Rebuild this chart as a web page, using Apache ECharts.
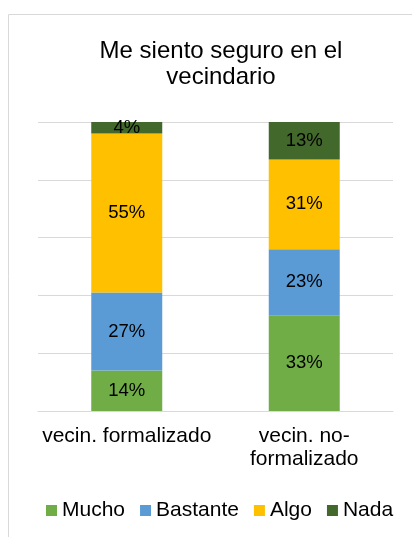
<!DOCTYPE html>
<html>
<head>
<meta charset="utf-8">
<script src="https://cdn.jsdelivr.net/npm/echarts@6/dist/echarts.min.js"></script>
<style>
  html, body { margin: 0; padding: 0; background: #fff; }
  #main { width: 412px; height: 537px; }
</style>
</head>
<body>
<div id="main"></div>
<script>
// categorias y porcentajes
var categories = ['vecin. formalizado', 'vecin. no-\nformalizado'];
var mucho = [14, 33];
var bastante = [27, 23];
var algo = [55, 31];
var nada = [4, 13];
var seriesNames = ['Mucho', 'Bastante', 'Algo', 'Nada'];
var colors = ['#70AD47', '#5B9BD5', '#FFC000', '#43682B'];

var font = '"Liberation Sans", Arial, sans-serif';
var chart = echarts.init(document.getElementById('main'));

function makeSeries(name, data) {
  return {
    name: name,
    type: 'bar',
    stack: 'total',
    barWidth: '40%',
    data: data,
    label: {
      show: true,
      position: 'inside',
      formatter: '{c}%',
      color: '#000',
      fontFamily: font,
      fontSize: 18.5
    }
  };
}

var option = {
  animation: false,
  color: colors,
  graphic: [{
    type: 'rect',
    silent: true,
    shape: { x: 8.5, y: 14.5, width: 500, height: 600 },
    style: { fill: 'none', stroke: '#D9D9D9', lineWidth: 1 }
  }],
  title: {
    text: 'Me siento seguro en el\nvecindario',
    left: 216,
    textAlign: 'center',
    top: 33,
    textStyle: {
      fontFamily: font,
      fontSize: 24,
      fontWeight: 'normal',
      color: '#000',
      lineHeight: 26
    }
  },
  legend: {
    data: seriesNames,
    left: 46,
    top: 500,
    padding: 0,
    itemWidth: 11,
    itemHeight: 11,
    itemGap: 15,
    icon: 'rect',
    textStyle: { fontFamily: font, fontSize: 21, color: '#000' }
  },
  grid: { left: 38, right: 19, top: 122, bottom: 126 },
  xAxis: {
    type: 'category',
    data: categories,
    axisTick: { show: false },
    axisLine: { lineStyle: { color: '#D9D9D9', width: 1 } },
    axisLabel: {
      interval: 0,
      fontFamily: font,
      fontSize: 21,
      color: '#000',
      lineHeight: 23.5,
      margin: 13
    }
  },
  yAxis: {
    type: 'value',
    min: 0,
    max: 100,
    interval: 20,
    axisLabel: { show: false },
    axisLine: { show: false },
    axisTick: { show: false },
    splitLine: { lineStyle: { color: '#D9D9D9', width: 1 } }
  },
  series: [
    makeSeries(seriesNames[0], mucho),
    makeSeries(seriesNames[1], bastante),
    makeSeries(seriesNames[2], algo),
    makeSeries(seriesNames[3], nada)
  ]
};

chart.setOption(option);
</script>
</body>
</html>
